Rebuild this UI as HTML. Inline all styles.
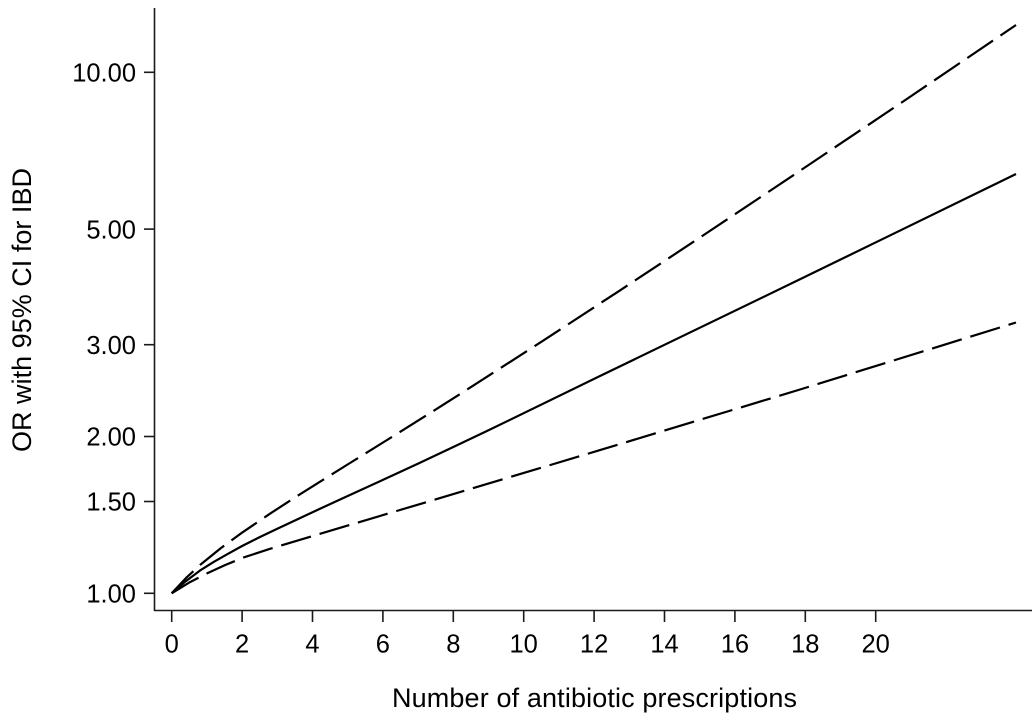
<!DOCTYPE html>
<html>
<head>
<meta charset="utf-8">
<style>
  html, body { margin: 0; padding: 0; background: #ffffff; }
  svg { display: block; }
  text { font-family: "Liberation Sans", Arial, sans-serif; fill: #000; }
</style>
</head>
<body>
<svg width="1032" height="713" viewBox="0 0 1032 713" xmlns="http://www.w3.org/2000/svg">
  <rect x="0" y="0" width="1032" height="713" fill="#ffffff"/>

  <!-- Axes -->
  <g stroke="#1a1a1a" stroke-width="1.6" fill="none">
    <line x1="154.5" y1="8" x2="154.5" y2="611"/>
    <line x1="154" y1="610.5" x2="1032" y2="610.5"/>
    <!-- y ticks -->
    <line x1="144" y1="72.3" x2="154.5" y2="72.3"/>
    <line x1="144" y1="229.1" x2="154.5" y2="229.1"/>
    <line x1="144" y1="344.7" x2="154.5" y2="344.7"/>
    <line x1="144" y1="436.5" x2="154.5" y2="436.5"/>
    <line x1="144" y1="501.5" x2="154.5" y2="501.5"/>
    <line x1="144" y1="593.3" x2="154.5" y2="593.3"/>
    <!-- x ticks -->
    <line x1="171.7" y1="610.5" x2="171.7" y2="622"/>
    <line x1="242.1" y1="610.5" x2="242.1" y2="622"/>
    <line x1="312.5" y1="610.5" x2="312.5" y2="622"/>
    <line x1="382.9" y1="610.5" x2="382.9" y2="622"/>
    <line x1="453.3" y1="610.5" x2="453.3" y2="622"/>
    <line x1="523.7" y1="610.5" x2="523.7" y2="622"/>
    <line x1="594.1" y1="610.5" x2="594.1" y2="622"/>
    <line x1="664.5" y1="610.5" x2="664.5" y2="622"/>
    <line x1="734.9" y1="610.5" x2="734.9" y2="622"/>
    <line x1="805.3" y1="610.5" x2="805.3" y2="622"/>
    <line x1="875.7" y1="610.5" x2="875.7" y2="622"/>
  </g>

  <!-- Y tick labels -->
  <g font-size="25.5" text-anchor="end">
    <text x="136" y="81.5">10.00</text>
    <text x="136" y="238.3">5.00</text>
    <text x="136" y="353.9">3.00</text>
    <text x="136" y="445.7">2.00</text>
    <text x="136" y="510.7">1.50</text>
    <text x="136" y="602.5">1.00</text>
  </g>

  <!-- X tick labels -->
  <g font-size="25.5" text-anchor="middle">
    <text x="171.7" y="652.5">0</text>
    <text x="242.1" y="652.5">2</text>
    <text x="312.5" y="652.5">4</text>
    <text x="382.9" y="652.5">6</text>
    <text x="453.3" y="652.5">8</text>
    <text x="523.7" y="652.5">10</text>
    <text x="594.1" y="652.5">12</text>
    <text x="664.5" y="652.5">14</text>
    <text x="734.9" y="652.5">16</text>
    <text x="805.3" y="652.5">18</text>
    <text x="875.7" y="652.5">20</text>
  </g>

  <!-- Axis titles -->
  <text x="392" y="707" font-size="27" textLength="405" lengthAdjust="spacing">Number of antibiotic prescriptions</text>
  <text transform="translate(31,310) rotate(-90)" x="0" y="0" font-size="27" text-anchor="middle" textLength="284" lengthAdjust="spacing">OR with 95% CI for IBD</text>

  <!-- Series -->
  <g fill="none" stroke="#000" stroke-width="2.2" stroke-linejoin="round">
    <!-- Estimate (solid) -->
    <polyline points="171.7,593.3 185.8,581.2 199.9,570.6 213.9,561.8 228,553.8 242.1,546 259.7,537.1 277.3,528.8 312.5,512.2 347.7,496 382.9,479.9 418.1,463.6 453.3,447 488.5,430.3 600,376 800,279.3 1016,174"/>
    <!-- Upper CI (dashed) -->
    <polyline stroke-dasharray="31 9" points="171.7,593.3 185.8,578.2 200,565 221,548 242,532.7 270,513.7 296.7,496.3 350,463 396.7,434 430,413.1 460,394.1 540,342.7 620,290.4 700,237.5 786.7,179.7 900,103.6 1016,25"/>
    <!-- Lower CI (dashed) -->
    <polyline stroke-dasharray="31 9" points="171.7,593.3 190,582.1 207,573.4 225,565.1 243.3,557.6 270,548.8 320,533.8 393.3,512 460,492.1 600,450.1 800,389.5 1016,322.5"/>
  </g>
</svg>
</body>
</html>
